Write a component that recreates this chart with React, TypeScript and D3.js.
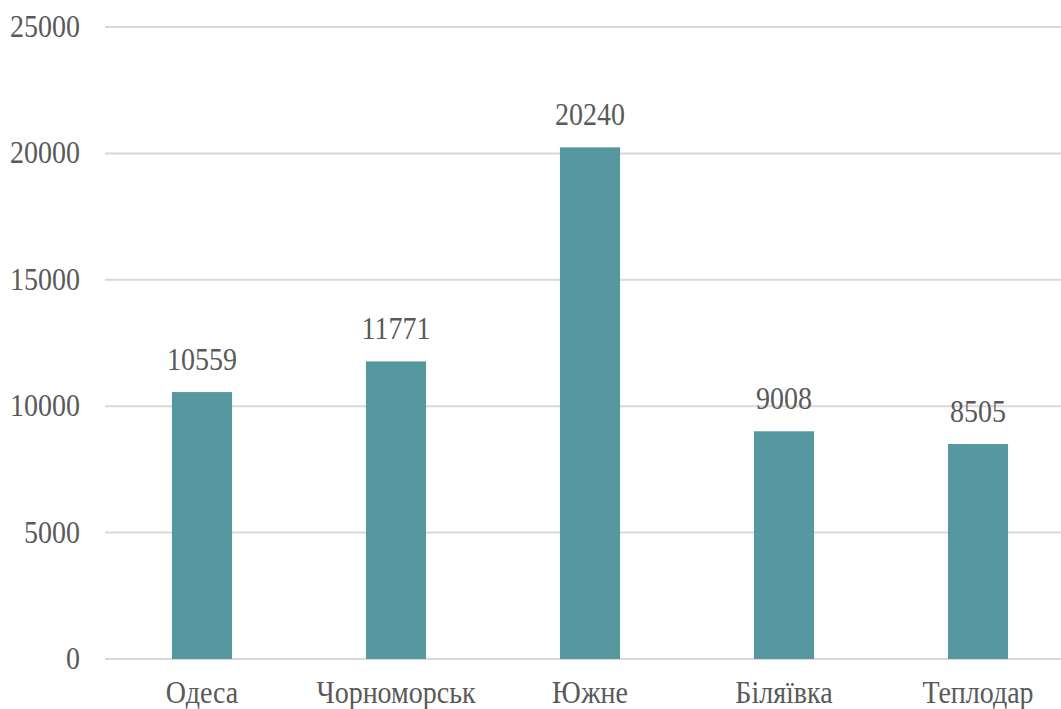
import React from "react";
import * as d3 from "d3";

const categories: string[] = ["Одеса", "Чорноморськ", "Южне", "Біляївка", "Теплодар"];
const values: number[] = [10559, 11771, 20240, 9008, 8505];
const yTicks: number[] = [0, 5000, 10000, 15000, 20000, 25000];

const W = 1061;
const H = 709;
const TEXT = "#595959";
const FS = 28;
const STRETCH = 1.13;

function Label(props: { x: number; y: number; anchor: "start" | "middle" | "end"; children: React.ReactNode }) {
  return (
    <text
      className="lbl"
      transform={`translate(${props.x},${props.y}) scale(1,${STRETCH})`}
      textAnchor={props.anchor}
      fontFamily="serif"
      fontSize={FS}
      fill={TEXT}
    >
      {props.children}
    </text>
  );
}

export default function App() {
  const x = d3
    .scaleBand<string>()
    .domain(categories)
    .range([105, 1075])
    .paddingInner(0.69)
    .paddingOuter(0.345);
  const y = d3.scaleLinear().domain([0, 25000]).range([659, 27]);

  return (
    <svg width={W} height={H} style={{ position: "absolute", left: 0, top: 0, background: "#fff" }}>
      <style>{`.lbl { font-family: "Liberation Serif", Tinos, serif; }`}</style>
      {yTicks.map((t) => (
        <g key={t}>
          <line x1={105} x2={W} y1={y(t)} y2={y(t)} stroke="#d9d9d9" strokeWidth={2} />
          <Label x={80} y={y(t) + 10} anchor="end">
            {t}
          </Label>
        </g>
      ))}
      {categories.map((c, i) => {
        const bx = x(c)!;
        const bw = x.bandwidth();
        return (
          <g key={c}>
            <rect x={bx} y={y(values[i])} width={bw} height={y(0) - y(values[i])} fill="#5797a0" />
            <Label x={bx + bw / 2} y={y(values[i]) - 22} anchor="middle">
              {values[i]}
            </Label>
            <Label x={bx + bw / 2} y={703} anchor="middle">
              {c}
            </Label>
          </g>
        );
      })}
    </svg>
  );
}
